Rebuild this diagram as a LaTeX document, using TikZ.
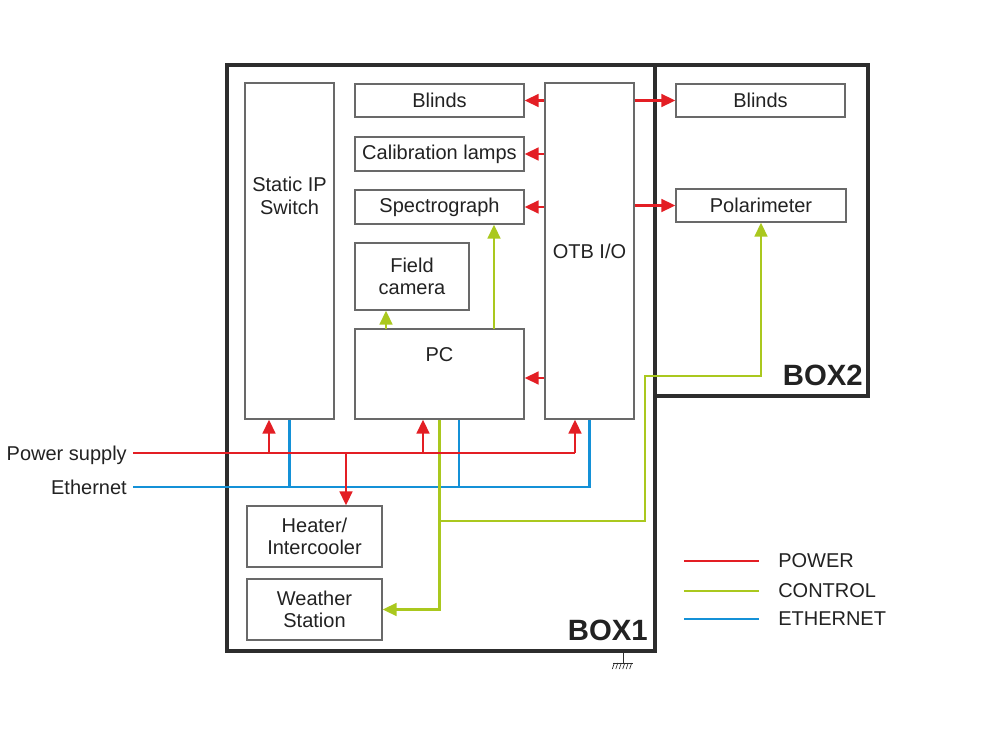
\documentclass[tikz,border=0pt]{standalone}
\usepackage{fontspec}
\setmainfont{Liberation Sans}
\usetikzlibrary{arrows.meta,fit}
\definecolor{pwc}{RGB}{227,30,36}
\definecolor{ctc}{RGB}{170,200,30}
\definecolor{etc}{RGB}{20,145,215}
\definecolor{boxgray}{RGB}{105,105,105}
\definecolor{framec}{RGB}{45,45,45}
\definecolor{txtc}{RGB}{34,34,34}
\begin{document}
\begin{tikzpicture}[x=0.75pt,y=-0.75pt,
  txt/.style={text=txtc, font=\fontsize{15}{17}\selectfont, align=center, inner sep=0},
  unit/.style n args={2}{draw=boxgray, line width=0.9pt, fill=white, inner sep=0, txt,
     minimum width={#1*0.75pt}, minimum height={#2*0.75pt}},
  frame/.style={draw=framec, line width=2.6pt, inner sep=0},
  boxlbl/.style={text=txtc, font=\fontsize{22}{26}\selectfont\bfseries, inner sep=0},
  pw/.style={draw=pwc, line width=1.9pt},
  pwa/.style={pw, -{Triangle[length=10.5pt,width=9.5pt]}},
  ctl/.style={draw=ctc, line width=1.9pt},
  ctla/.style={ctl, -{Triangle[length=10.5pt,width=9.5pt]}},
  eth/.style={draw=etc, line width=1.9pt}]
\useasboundingbox (0,0) rectangle (981,742);
% frames
\node[frame, fit={(227,65)(655,651)}] (box1) {};
\node[frame, fit={(655,65)(868,396)}] (box2) {};
\node[boxlbl, anchor=base east] (b1l) at (648,640) {BOX1};
\node[boxlbl, anchor=base east] (b2l) at (863,385) {BOX2};
% units
\node[unit={89}{336}] (sw) at (289.5,251) {};
\node[txt] (swl) at (289.5,196) {Static IP\\Switch};
\node[unit={169}{33}] (bl1) at (439.5,100.5) {Blinds};
\node[unit={169}{34}] (cal) at (439.5,154) {Calibration lamps};
\node[unit={169}{34}] (spec) at (439.5,207) {Spectrograph};
\node[unit={114}{67}] (fc) at (412,276.5) {Field\\camera};
\node[unit={169}{90}] (pc) at (439.5,374) {};
\node[txt] (pcl) at (439.5,355) {PC};
\node[unit={89}{336}] (otb) at (589.5,251) {OTB I/O};
\node[unit={169}{33}] (bl2) at (760.5,100.5) {Blinds};
\node[unit={170}{33}] (pol) at (761,205.5) {Polarimeter};
\node[unit={135}{61}] (heat) at (314.5,536.5) {Heater/\\Intercooler};
\node[unit={135}{61}] (ws) at (314.5,609.5) {Weather\\Station};
% input labels
\node[txt, anchor=base east] (psl) at (127,460) {Power supply};
\node[txt, anchor=base east] (ethl) at (127,494) {Ethernet};
% ethernet
\coordinate (ethin) at (133,487);
\coordinate (e2) at (459,487);
\draw[eth] (ethin) -| (otb.south);
\draw[eth] (sw.south) -- (sw.south |- ethin);
\draw[eth] (e2) -- (e2 |- pc.south);
% control
\coordinate (g1) at (439.5,521);
\coordinate (g2) at (386,329);
\coordinate (g3) at (494,329);
\coordinate (g4) at (645,376);
\draw[ctla] (pc.south) |- (ws.east);
\draw[ctla] (g1) -| (g4) -| (pol.south);
\draw[ctla] (g2) -- (g2 |- fc.south);
\draw[ctla] (g3) -- (g3 |- spec.south);
% power
\coordinate (psin) at (133,453);
\coordinate (psend) at (575,453);
\coordinate (j1) at (269,453);
\coordinate (j2) at (346,453);
\coordinate (j3) at (423,453);
\draw[pw] (psin) -- (psend);
\draw[pwa] (psend) -- (psend |- otb.south);
\draw[pwa] (j1) -- (j1 |- sw.south);
\draw[pwa] (j2) -- (j2 |- heat.north);
\draw[pwa] (j3) -- (j3 |- pc.south);
\draw[pwa] (otb.west |- bl1.east) -- (bl1.east);
\draw[pwa] (otb.west |- cal.east) -- (cal.east);
\draw[pwa] (otb.west |- spec.east) -- (spec.east);
\draw[pwa] (otb.west |- 0,378) -- (pc.east |- 0,378);
\draw[pwa] (otb.east |- bl2.west) -- (bl2.west);
\draw[pwa] (otb.east |- pol.west) -- (pol.west);
% legend
\node[txt, anchor=west] (lg1) at (778,561) {POWER};
\node[txt, anchor=west] (lg2) at (778,591) {CONTROL};
\node[txt, anchor=west] (lg3) at (778,619) {ETHERNET};
\draw[pw] (684,561) -- (759,561);
\draw[ctl] (684,591) -- (759,591);
\draw[eth] (684,619) -- (759,619);
% ground
\coordinate (gnd) at (623,652);
\draw[framec, line width=0.7pt] (gnd) -- ++(0,11) coordinate (gb);
\draw[framec, line width=0.7pt] ([xshift=-7.5pt]gb) -- ([xshift=7.5pt]gb);
\foreach \i in {0,...,5}{
  \draw[framec, line width=0.5pt] ([xshift={-6.5pt+\i*2.6pt}]gb) -- ++(-2,6);
}
\end{tikzpicture}
\end{document}
